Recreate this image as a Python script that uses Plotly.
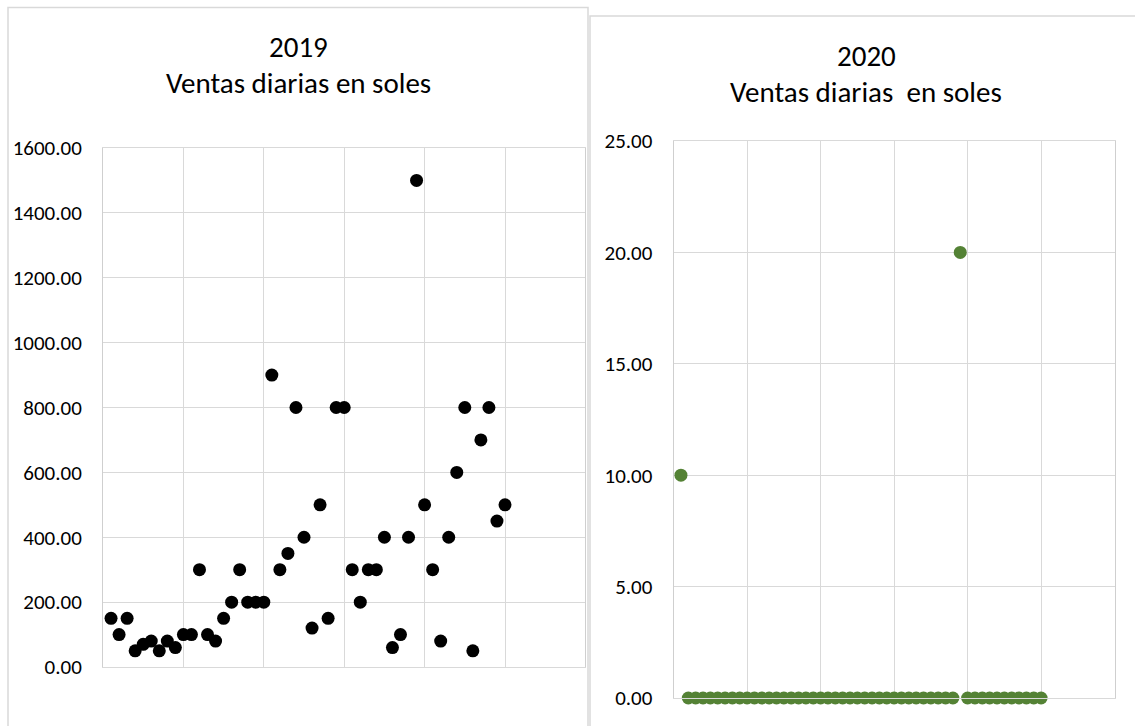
import plotly.graph_objects as go

W, H = 1135, 726

dias = [1, 2, 3, 4, 5, 6, 7, 8, 9, 10,
        11, 12, 13, 14, 15, 16, 17, 18, 19, 20,
        21, 22, 23, 24, 25, 26, 27, 28, 29, 30,
        31, 32, 33, 34, 35, 36, 37, 38, 39, 40,
        41, 42, 43, 44, 45, 46, 47, 48, 49, 50]

ventas_2019 = [150, 100, 150, 50, 70, 80, 50, 80, 60, 100,
               100, 300, 100, 80, 150, 200, 300, 200, 200, 200,
               900, 300, 350, 800, 400, 120, 500, 150, 800, 800,
               300, 200, 300, 300, 400, 60, 100, 400, 1500, 500,
               300, 80, 400, 600, 800, 50, 700, 800, 450, 500]

ventas_2020 = [10, 0, 0, 0, 0, 0, 0, 0, 0, 0,
               0, 0, 0, 0, 0, 0, 0, 0, 0, 0,
               0, 0, 0, 0, 0, 0, 0, 0, 0, 0,
               0, 0, 0, 0, 0, 0, 0, 0, 20, 0,
               0, 0, 0, 0, 0, 0, 0, 0, 0, 0]

titulo_1 = ["2019", "Ventas diarias en soles"]
titulo_2 = ["2020", "Ventas diarias  en soles"]

FONT = "Calibri, Carlito, Lato, sans-serif"
GRID = "#d9d9d9"


def px_x(v):
    return v / W


def px_y(v):
    return 1 - v / H


fig = go.Figure()
fig.add_trace(go.Scatter(x=dias, y=ventas_2019, mode="markers",
                         marker=dict(color="#000000", size=13),
                         cliponaxis=False, xaxis="x", yaxis="y",
                         showlegend=False))
fig.add_trace(go.Scatter(x=dias, y=ventas_2020, mode="markers",
                         marker=dict(color="#548235", size=13),
                         cliponaxis=False, xaxis="x2", yaxis="y2",
                         showlegend=False))

xcommon = dict(range=[0, 60], dtick=10, tick0=0, showgrid=True, gridcolor=GRID,
               gridwidth=1, showticklabels=False, ticks="", zeroline=False,
               showline=True, mirror=True, linecolor=GRID, linewidth=1,
               automargin=False)
ycommon = dict(showgrid=True, gridcolor=GRID, gridwidth=1, ticks="",
               zeroline=False, showline=True, mirror=True, linecolor="#cfcfcf",
               linewidth=1, tickformat=".2f", automargin=False,
               tickfont=dict(family=FONT, size=21, color="#000000"),
               ticklabelstandoff=16)

fig.update_layout(
    width=W, height=H, autosize=False,
    margin=dict(l=0, r=0, t=0, b=0, pad=0, autoexpand=False),
    paper_bgcolor="white", plot_bgcolor="white",
    xaxis=dict(domain=[px_x(103), px_x(585.4)], anchor="y", **xcommon),
    yaxis=dict(domain=[px_y(667), px_y(148)], anchor="x", range=[0, 1600],
               dtick=200, tick0=0, **ycommon),
    xaxis2=dict(domain=[px_x(673.6), px_x(1114.6)], anchor="y2", **xcommon),
    yaxis2=dict(domain=[px_y(698), px_y(141)], anchor="x2", range=[0, 25],
                dtick=5, tick0=0, **ycommon),
)

# chart frames
fig.add_shape(type="rect", xref="paper", yref="paper",
              x0=px_x(8), x1=px_x(588), y0=-0.1, y1=px_y(7.5),
              line=dict(color=GRID, width=1.5), fillcolor="rgba(0,0,0,0)",
              layer="below")
fig.add_shape(type="rect", xref="paper", yref="paper",
              x0=px_x(590), x1=px_x(1150), y0=-0.1, y1=px_y(16),
              line=dict(color=GRID, width=1.5), fillcolor="rgba(0,0,0,0)",
              layer="below")

for txt, xc, yc in [(titulo_1[0], 298, 47), (titulo_1[1], 298, 83),
                    (titulo_2[0], 866, 56), (titulo_2[1], 866, 92)]:
    fig.add_annotation(text=txt, xref="paper", yref="paper",
                       x=px_x(xc), y=px_y(yc), xanchor="center", yanchor="middle",
                       showarrow=False,
                       font=dict(family=FONT, size=29, color="#000000"))

post = (
    "var d=document.getElementById('{plot_id}');"
    "d.style.position='fixed';d.style.left='0px';d.style.top='0px';"
    "document.documentElement.style.overflow='hidden';"
    "document.body.style.margin='0';"
    "document.body.style.overflow='hidden';"
)

fig.write_html(
    "out.html",
    config={"responsive": False, "displayModeBar": False},
    post_script=post,
)
